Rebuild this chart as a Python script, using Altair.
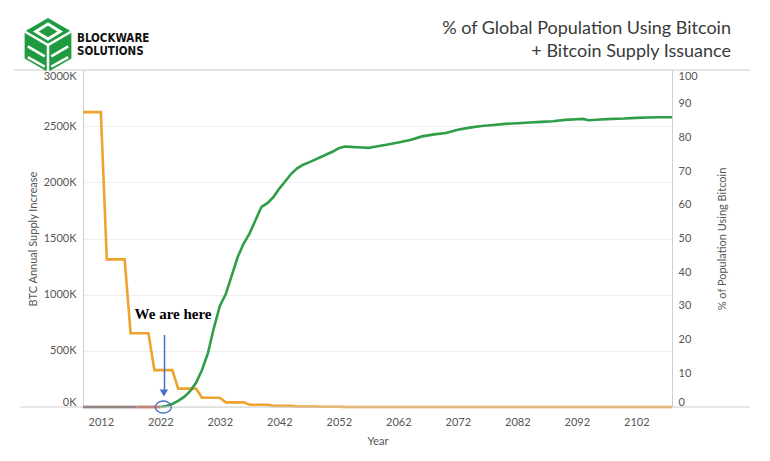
import altair as alt
import pandas as pd

# ---- data ----
supply_years = [2009, 2012, 2013, 2016, 2017, 2020, 2021, 2024, 2025, 2028, 2029, 2032,
                2033, 2036, 2037, 2040, 2041, 2044, 2045, 2048, 2049, 2052, 2053, 2108]
supply_k = [2625, 2625, 1314, 1314, 657, 657, 328, 328, 164, 164, 82, 82,
            41, 41, 20, 20, 10, 10, 5, 5, 2.6, 2.6, 1.3, 0]

early_years = [2009, 2018]
early_pct = [0, 0]
recent_years = [2018, 2022]
recent_pct = [0, 0]
forecast_years = [2022, 2023, 2024, 2025, 2026, 2027, 2028, 2029, 2030, 2031, 2032, 2033,
                  2034, 2035, 2036, 2037, 2038, 2039, 2040, 2041, 2042, 2043, 2044, 2045,
                  2046, 2047, 2048, 2049, 2050, 2051, 2052, 2053, 2054, 2055, 2056, 2057,
                  2058, 2060, 2062, 2064, 2066, 2068, 2070, 2072, 2074, 2076, 2078, 2080,
                  2082, 2084, 2086, 2088, 2090, 2092, 2093, 2094, 2096, 2098, 2100, 2102,
                  2104, 2106, 2108]
forecast_pct = [0, 0.3, 0.9, 1.8, 3.0, 4.7, 7.2, 11, 16, 23.5, 30, 33.5,
                39, 44.5, 48.5, 51.5, 55.5, 59.4, 60.5, 62.3, 64.8, 67, 69.2, 70.8,
                71.9, 72.6, 73.4, 74.2, 75, 75.8, 76.8, 77.3, 77.2, 77.1, 77.0, 76.9,
                77.2, 77.8, 78.5, 79.2, 80.3, 80.9, 81.3, 82.3, 82.9, 83.4, 83.7, 84.0,
                84.2, 84.4, 84.6, 84.8, 85.2, 85.4, 85.5, 85.1, 85.3, 85.5, 85.6, 85.8,
                85.9, 86.0, 86.0]

x_ticks = [2012, 2022, 2032, 2042, 2052, 2062, 2072, 2082, 2092, 2102]
left_ticks = [0, 500, 1000, 1500, 2000, 2500, 3000]
right_ticks = [0, 10, 20, 30, 40, 50, 60, 70, 80, 90, 100]

title_lines = ["% of Global Population Using Bitcoin", "+ Bitcoin Supply Issuance"]
logo_lines = ["BLOCKWARE", "SOLUTIONS"]
note_text = "We are here"
now_year = 2022.6

ORANGE = "#f0a22e"
GREEN = "#2f9e47"
BLUE = "#4472c4"
FONT = "Lato"
LOGO_FONT = "DejaVu Sans Condensed, Liberation Sans Narrow, Roboto"

supply_df = pd.DataFrame({"year": supply_years, "supply": supply_k})
pct_df = pd.concat([
    pd.DataFrame({"year": early_years, "pct": early_pct, "seg": "early"}),
    pd.DataFrame({"year": recent_years, "pct": recent_pct, "seg": "recent"}),
    pd.DataFrame({"year": forecast_years, "pct": forecast_pct, "seg": "forecast"}),
])
one = pd.DataFrame({"k": [0]})

x_enc = alt.X(
    "year:Q",
    scale=alt.Scale(domain=[2009, 2108], nice=False, zero=False),
    axis=alt.Axis(values=x_ticks, format="d", title="Year", grid=False, domain=False,
                  ticks=False, labelPadding=9, titlePadding=8, labelFont=FONT,
                  titleFont=FONT, labelFontSize=11, titleFontSize=11,
                  labelColor="#555", titleColor="#555", titleFontWeight="normal"),
)

orange = alt.Chart(supply_df).mark_line(color=ORANGE, strokeWidth=2.6).encode(
    x=x_enc,
    y=alt.Y("supply:Q",
            scale=alt.Scale(domain=[0, 3000], nice=False),
            axis=alt.Axis(values=left_ticks, labelExpr="datum.value + 'K'",
                          title="BTC Annual Supply Increase", grid=True,
                          gridColor="#efefef", domain=True, domainColor="#d0d0d0",
                          ticks=False, labelPadding=7, titlePadding=5, labelFlush=True,
                          labelFont=FONT, titleFont=FONT, labelFontSize=11,
                          titleFontSize=11, labelColor="#555", titleColor="#555",
                          titleFontWeight="normal")),
)

green = alt.Chart(pct_df).mark_line(strokeWidth=2.6).encode(
    x=x_enc,
    y=alt.Y("pct:Q",
            scale=alt.Scale(domain=[0, 100], nice=False),
            axis=alt.Axis(orient="right", values=right_ticks,
                          title="% of Population Using Bitcoin", grid=False,
                          domain=True, domainColor="#d0d0d0", ticks=False,
                          labelPadding=6, titlePadding=30, titleAngle=270, labelFlush=True,
                          labelFont=FONT, titleFont=FONT, labelFontSize=11,
                          titleFontSize=11, labelColor="#555", titleColor="#555",
                          titleFontWeight="normal")),
    color=alt.Color("seg:N", legend=None,
                    scale=alt.Scale(domain=["early", "recent", "forecast"],
                                    range=["#5a4038", "#b23a2f", GREEN])),
    detail="seg:N",
)

# separator / baseline rules
top_rule = alt.Chart(one).mark_rule(color="#dcdcdc", strokeWidth=1.5).encode(
    x=alt.value(-69), x2=alt.value(667), y=alt.value(0))
bottom_rule = alt.Chart(one).mark_rule(color="#cfcfcf", strokeWidth=1.2).encode(
    x=alt.value(-63), x2=alt.value(667), y=alt.value(337))

# annotation
note = alt.Chart(one).mark_text(
    text=note_text, font="Liberation Serif", fontWeight="bold", fontSize=15,
    color="#000", align="center", baseline="middle").encode(
    x=alt.value(90), y=alt.value(244))
arrow = alt.Chart(one).mark_rule(color=BLUE, strokeWidth=1.5).encode(
    x=alt.datum(now_year + 0.1), y=alt.value(265), y2=alt.value(320))
arrow_head = alt.Chart(one).mark_point(
    shape="triangle-down", filled=True, color=BLUE, size=70, opacity=1).encode(
    x=alt.datum(now_year), y=alt.value(323))
ring = alt.Chart(one).mark_point(
    shape="M-1,0A1,0.75 0 1,1 1,0A1,0.75 0 1,1 -1,0Z", filled=False, color=BLUE,
    strokeWidth=1.3, size=256, opacity=1).encode(
    x=alt.datum(now_year - 0.1), y=alt.value(337))

# title
title1 = alt.Chart(one).mark_text(
    text=title_lines[0], font=FONT, fontSize=18,
    color="#3a3a3a", align="right", baseline="middle").encode(
    x=alt.value(648), y=alt.value(-41))
title2 = alt.Chart(one).mark_text(
    text=title_lines[1], font=FONT, fontSize=18,
    color="#3a3a3a", align="right", baseline="middle").encode(
    x=alt.value(648), y=alt.value(-18))

# logo
hexagon = alt.Chart(one).mark_point(
    shape="M0,-1L0.866,-0.5L0.866,0.5L0,1L-0.866,0.5L-0.866,-0.5Z", filled=True,
    color="#1f9a3f", size=2916, opacity=1).encode(x=alt.value(-35), y=alt.value(-25))
cube_lines = alt.Chart(one).mark_point(
    shape="M-0.866,-0.5L0,0L0.866,-0.5M0,0L0,1M-0.75,0.05L-0.12,0.42M-0.75,0.45L-0.12,0.8M0.12,0.42L0.75,0.05M0.12,0.8L0.75,0.45",
    filled=False, color="white", strokeWidth=2.5, size=2916, opacity=1).encode(
    x=alt.value(-35), y=alt.value(-25))
top_diamond = alt.Chart(one).mark_point(
    shape="M0,-0.78L0.45,-0.5L0,-0.22L-0.45,-0.5Z", filled=False, color="white",
    strokeWidth=3, size=2916, opacity=1).encode(x=alt.value(-35), y=alt.value(-25))
logo1 = alt.Chart(one).mark_text(
    text=logo_lines[0], font=LOGO_FONT, fontWeight="bold",
    fontSize=11.5, color="#111", align="left", baseline="middle").encode(
    x=alt.value(-6), y=alt.value(-31))
logo2 = alt.Chart(one).mark_text(
    text=logo_lines[1], font=LOGO_FONT, fontWeight="bold",
    fontSize=11.5, color="#111", align="left", baseline="middle").encode(
    x=alt.value(-6), y=alt.value(-18))

chart = alt.layer(
    orange, green, top_rule, bottom_rule, note, arrow, arrow_head, ring,
    title1, title2, hexagon, cube_lines, top_diamond, logo1, logo2,
).resolve_scale(y="independent").properties(
    width=589, height=337,
    autosize=alt.AutoSizeParams(type="none"),
    padding={"left": 75, "top": 62, "right": 90, "bottom": 44},
    background="white",
).configure_view(strokeOpacity=0)

chart.save("out.html", embed_options={"renderer": "svg", "actions": False})
